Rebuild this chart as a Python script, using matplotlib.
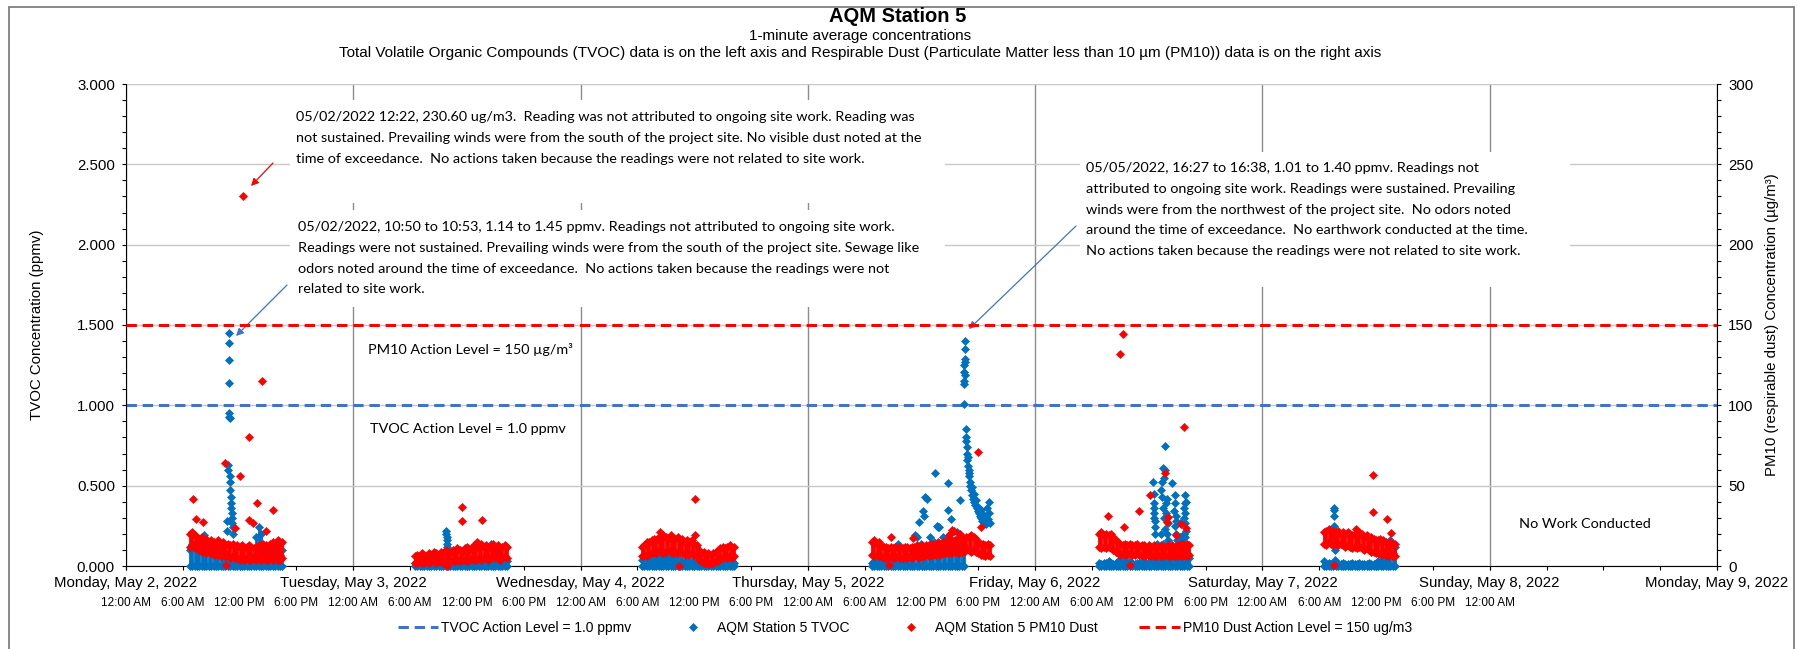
import matplotlib
matplotlib.use("Agg")
import matplotlib.pyplot as plt
import matplotlib.dates as mdates
from matplotlib.patches import Rectangle
from matplotlib.ticker import MultipleLocator, FormatStrFormatter, FuncFormatter
import numpy as np
import pandas as pd

plt.rcParams['font.family'] = ['Liberation Sans', 'DejaVu Sans']

# ---- data: lowest / highest 1-minute reading in each 15-minute interval ----
start_mon, start_tue, start_wed = '2022-05-02 06:45', '2022-05-03 06:30', '2022-05-04 06:30'
start_thu, start_fri, start_sat = '2022-05-05 06:45', '2022-05-06 06:45', '2022-05-07 06:30'

pm10_mon_lo = [12, 13, 11, 12, 10, 9, 10, 8, 9, 8, 7, 8, 7, 6, 7, 6, 6, 5, 6, 5,
               5, 4, 5, 4, 5, 4, 4, 5, 4, 5, 4, 5, 4, 4, 5, 4, 5, 4, 4, 5]
pm10_mon_hi = [20, 21, 19, 18, 17, 18, 16, 17, 15, 16, 15, 14, 16, 14, 15, 13, 14, 13, 14, 12,
               13, 12, 13, 11, 12, 13, 12, 11, 12, 13, 12, 14, 13, 12, 14, 15, 13, 16, 14, 15]
pm10_tue_lo = [2, 2, 3, 2, 2, 3, 2, 3, 3, 2, 3, 3, 2, 3, 3, 4, 3, 3, 4, 3,
               4, 4, 3, 4, 5, 4, 4, 5, 4, 5, 5, 4, 5, 6, 5, 5, 4, 5, 6, 5]
pm10_tue_hi = [6, 7, 6, 8, 7, 6, 8, 7, 9, 8, 7, 9, 8, 10, 9, 8, 10, 9, 11, 10,
               9, 11, 12, 10, 11, 13, 12, 11, 14, 12, 13, 11, 12, 14, 12, 13, 11, 12, 13, 12]
pm10_wed_lo = [6, 7, 6, 8, 8, 9, 8, 10, 9, 8, 9, 10, 9, 8, 9, 8, 9, 8, 7, 8,
               7, 8, 7, 6, 4, 3, 2, 2, 1, 2, 2, 3, 3, 5, 5, 6, 5, 6, 5, 6]
pm10_wed_hi = [12, 13, 14, 15, 16, 17, 16, 18, 17, 19, 18, 17, 18, 16, 17, 18, 16, 17, 15, 16,
               15, 16, 14, 13, 10, 8, 9, 7, 8, 7, 8, 9, 10, 11, 12, 11, 12, 13, 11, 12]
pm10_thu_lo = [7, 6, 7, 6, 6, 5, 5, 5, 6, 5, 5, 6, 5, 5, 6, 5, 6, 5, 6, 6,
               5, 6, 6, 7, 6, 7, 7, 7, 8, 7, 8, 8, 8, 9, 8, 9, 9, 8, 9, 9,
               10, 10, 9, 10, 9, 8, 7, 7, 6, 7, 6]
pm10_thu_hi = [15, 16, 14, 15, 13, 12, 12, 11, 12, 11, 12, 11, 12, 11, 12, 12, 11, 12, 12, 13,
               12, 13, 12, 13, 13, 14, 13, 14, 15, 14, 15, 15, 16, 15, 16, 16, 17, 16, 17, 17,
               18, 18, 19, 18, 17, 15, 14, 14, 13, 14, 13]
pm10_fri_lo = [12, 11, 12, 11, 12, 11, 10, 9, 8, 7, 8, 7, 7, 8, 7, 7, 8, 7, 7, 6,
               7, 6, 7, 6, 6, 7, 6, 6, 7, 6, 6, 7, 6, 6, 7, 6, 7, 6, 7]
pm10_fri_hi = [20, 21, 19, 20, 19, 20, 18, 16, 15, 14, 13, 14, 13, 14, 13, 13, 14, 12, 13, 13,
               12, 13, 12, 13, 12, 12, 13, 12, 12, 13, 12, 13, 12, 13, 13, 14, 13, 14, 13]
pm10_sat_lo = [14, 13, 15, 14, 13, 14, 13, 14, 13, 12, 13, 12, 11, 12, 11, 12, 11, 10, 11, 10,
               9, 9, 8, 8, 7, 8, 7, 6, 7, 6, 6]
pm10_sat_hi = [21, 22, 23, 21, 22, 21, 22, 20, 21, 20, 21, 20, 19, 20, 19, 21, 19, 18, 19, 17,
               18, 17, 16, 16, 15, 16, 15, 14, 15, 14, 14]

# TVOC drops to 0.000 in every interval; these are the interval highs
tvoc_mon_hi = [0.1, 0.14, 0.12, 0.15, 0.13, 0.16, 0.19, 0.14, 0.12, 0.15, 0.1, 0.13, 0.11, 0.09,
               0.12, 0.08, 0.05, 0.04, 0.06, 0.03, 0.04, 0.02, 0.03, 0.04, 0.03, 0.05, 0.04, 0.06,
               0.18, 0.24, 0.2, 0.12, 0.1, 0.12, 0.08, 0.11, 0.09, 0.12, 0.07, 0.1]
tvoc_tue_hi = [0.02, 0.03, 0.02, 0.01, 0.02, 0.03, 0.02, 0.02, 0.03, 0.02, 0.03, 0.02, 0.03, 0.04,
               0.03, 0.02, 0.03, 0.02, 0.03, 0.04, 0.03, 0.02, 0.04, 0.03, 0.03, 0.04, 0.03, 0.05,
               0.04, 0.03, 0.05, 0.04, 0.06, 0.04, 0.03, 0.05, 0.04, 0.03, 0.04, 0.03]
tvoc_wed_hi = [0.04, 0.05, 0.06, 0.04, 0.05, 0.06, 0.05, 0.04, 0.06, 0.05, 0.04, 0.06, 0.05, 0.04,
               0.05, 0.03, 0.04, 0.03, 0.02, 0.03, 0.02, 0.03, 0.02, 0.03, 0.02, 0.02, 0.01, 0.02,
               0.02, 0.01, 0.02, 0.02, 0.01, 0.02, 0.02, 0.03, 0.02, 0.02, 0.03, 0.02]
tvoc_thu_hi = [0.02, 0.03, 0.02, 0.03, 0.04, 0.03, 0.02, 0.03, 0.04, 0.03, 0.04, 0.05, 0.04, 0.05,
               0.04, 0.06, 0.05, 0.07, 0.09, 0.1, 0.08, 0.11, 0.12, 0.1, 0.09, 0.12, 0.14, 0.11,
               0.1, 0.13, 0.12, 0.14, 0.13, 0.11, 0.15, 0.13, 0.14, 0.12, 0.15, 0.13]
tvoc_fri_hi = [0.02, 0.01, 0.02, 0.02, 0.03, 0.02, 0.01, 0.02, 0.02, 0.03, 0.04, 0.02, 0.02, 0.03,
               0.02, 0.01, 0.02, 0.02, 0.03, 0.03, 0.02, 0.02, 0.05, 0.03, 0.04, 0.03, 0.06, 0.04,
               0.05, 0.03, 0.04, 0.05, 0.07, 0.04, 0.05, 0.06, 0.04, 0.08, 0.05]
tvoc_sat_hi = [0.03, 0.01, 0.02, 0.01, 0.01, 0.02, 0.01, 0.01, 0.02, 0.01, 0.01, 0.01, 0.02, 0.01,
               0.01, 0.02, 0.01, 0.01, 0.01, 0.02, 0.01, 0.01, 0.02, 0.03, 0.02, 0.04, 0.1, 0.06,
               0.16, 0.08, 0.12]

# individual 1-minute readings that stand out from the bands
pm10_spot_t = ['2022-05-02 12:22', '2022-05-02 07:02', '2022-05-02 07:24', '2022-05-02 14:22',
               '2022-05-02 13:00', '2022-05-02 10:27', '2022-05-02 12:03', '2022-05-02 13:52',
               '2022-05-02 15:29', '2022-05-02 12:57', '2022-05-02 13:26', '2022-05-02 08:10',
               '2022-05-02 14:47', '2022-05-02 11:28', '2022-05-02 10:33',
               '2022-05-03 11:28', '2022-05-03 11:29', '2022-05-03 13:35', '2022-05-03 09:52',
               '2022-05-03 13:06', '2022-05-03 14:42',
               '2022-05-04 12:02', '2022-05-04 12:03', '2022-05-04 08:23', '2022-05-04 06:58',
               '2022-05-04 09:36', '2022-05-04 10:24',
               '2022-05-05 18:01', '2022-05-05 18:18', '2022-05-05 08:48', '2022-05-05 11:03',
               '2022-05-05 08:36', '2022-05-05 14:54', '2022-05-05 15:24', '2022-05-05 15:14',
               '2022-05-05 16:03',
               '2022-05-06 09:00', '2022-05-06 09:18', '2022-05-06 15:45', '2022-05-06 07:42',
               '2022-05-06 13:42', '2022-05-06 12:06', '2022-05-06 11:00', '2022-05-06 09:20',
               '2022-05-06 14:00', '2022-05-06 10:00', '2022-05-06 15:27', '2022-05-06 15:54',
               '2022-05-06 14:51', '2022-05-06 13:54',
               '2022-05-07 11:42', '2022-05-07 11:43', '2022-05-07 13:12', '2022-05-07 13:36',
               '2022-05-07 09:54', '2022-05-07 07:36', '2022-05-07 10:34', '2022-05-07 12:24']
pm10_spot_v = [230.6, 41.5, 29.0, 115.0, 80.5, 64.3, 56.0, 39.4, 34.8, 28.6, 26.6, 27.6, 22.0, 23.5, 0.6,
               36.9, 28.0, 28.6, 0.3, 14.7, 12.6,
               41.7, 19.3, 21.4, 15.2, 19.3, 0.2,
               70.9, 24.5, 18.3, 17.2, 0.6, 19.3, 21.8, 22.4, 20.0,
               131.9, 144.2, 86.3, 31.3, 58.0, 44.2, 34.2, 24.0, 30.7, 0.6, 26.3, 23.6, 19.4, 27.5,
               56.4, 33.8, 29.5, 20.3, 23.2, 0.6, 20.0, 17.0]

tvoc_spot_t = ['2022-05-02 10:50', '2022-05-02 10:51', '2022-05-02 10:52', '2022-05-02 10:53',
               '2022-05-02 10:54', '2022-05-02 10:55', '2022-05-02 10:56', '2022-05-02 10:45',
               '2022-05-02 10:47', '2022-05-02 10:57', '2022-05-02 10:59', '2022-05-02 11:02',
               '2022-05-02 11:04', '2022-05-02 11:06', '2022-05-02 11:08', '2022-05-02 11:10',
               '2022-05-02 11:12', '2022-05-02 11:14', '2022-05-02 10:40', '2022-05-02 11:18',
               '2022-05-02 10:38', '2022-05-02 11:20',
               '2022-05-03 09:48', '2022-05-03 09:50', '2022-05-03 09:51', '2022-05-03 09:52',
               '2022-05-03 09:54', '2022-05-03 09:55', '2022-05-03 09:57', '2022-05-03 14:30',
               '2022-05-03 14:45', '2022-05-03 15:05',
               '2022-05-05 13:25', '2022-05-05 12:21', '2022-05-05 12:36', '2022-05-05 12:12',
               '2022-05-05 12:15', '2022-05-05 14:48', '2022-05-05 14:45', '2022-05-05 16:03',
               '2022-05-05 11:42', '2022-05-05 13:39', '2022-05-05 13:48', '2022-05-05 12:54',
               '2022-05-05 11:30', '2022-05-05 15:00', '2022-05-05 15:42', '2022-05-05 13:18',
               '2022-05-05 14:42', '2022-05-05 11:54', '2022-05-05 15:18', '2022-05-05 16:05',
               '2022-05-05 11:00', '2022-05-05 09:30', '2022-05-05 11:18', '2022-05-05 13:45',
               '2022-05-05 14:17', '2022-05-05 15:10',
               '2022-05-05 16:27', '2022-05-05 16:29', '2022-05-05 16:30', '2022-05-05 16:31',
               '2022-05-05 16:32', '2022-05-05 16:33', '2022-05-05 16:34', '2022-05-05 16:35',
               '2022-05-05 16:36', '2022-05-05 16:38',
               '2022-05-05 16:40', '2022-05-05 16:42', '2022-05-05 16:44', '2022-05-05 16:46',
               '2022-05-05 16:48', '2022-05-05 16:50', '2022-05-05 16:52', '2022-05-05 16:55',
               '2022-05-05 16:58', '2022-05-05 17:00', '2022-05-05 17:03', '2022-05-05 17:06',
               '2022-05-05 17:10', '2022-05-05 17:14', '2022-05-05 17:18', '2022-05-05 17:22',
               '2022-05-05 17:26', '2022-05-05 17:30', '2022-05-05 17:35', '2022-05-05 17:40',
               '2022-05-05 17:45', '2022-05-05 17:50', '2022-05-05 17:55', '2022-05-05 18:00',
               '2022-05-05 18:05', '2022-05-05 18:10', '2022-05-05 18:15', '2022-05-05 18:20',
               '2022-05-05 18:25', '2022-05-05 18:30', '2022-05-05 18:35', '2022-05-05 18:40',
               '2022-05-05 18:45', '2022-05-05 18:50', '2022-05-05 18:55', '2022-05-05 19:00',
               '2022-05-05 19:05', '2022-05-05 19:10', '2022-05-05 19:12',
               '2022-05-06 13:42', '2022-05-06 13:30', '2022-05-06 13:45', '2022-05-06 12:27',
               '2022-05-06 14:24', '2022-05-06 12:33', '2022-05-06 12:36', '2022-05-06 12:38',
               '2022-05-06 13:20', '2022-05-06 13:24', '2022-05-06 13:48', '2022-05-06 13:52',
               '2022-05-06 14:02', '2022-05-06 14:45', '2022-05-06 14:50', '2022-05-06 14:55',
               '2022-05-06 15:48', '2022-05-06 15:50', '2022-05-06 15:52', '2022-05-06 15:47',
               '2022-05-06 15:51', '2022-05-06 15:49', '2022-05-06 15:16', '2022-05-06 15:20',
               '2022-05-06 15:22', '2022-05-06 13:15', '2022-05-06 13:33', '2022-05-06 14:00',
               '2022-05-06 12:50', '2022-05-06 12:00', '2022-05-06 14:30', '2022-05-06 08:54',
               '2022-05-06 12:30', '2022-05-06 12:31', '2022-05-06 12:34', '2022-05-06 12:40',
               '2022-05-06 12:42', '2022-05-06 13:25', '2022-05-06 13:28', '2022-05-06 13:35',
               '2022-05-06 13:38', '2022-05-06 13:43', '2022-05-06 13:55', '2022-05-06 13:58',
               '2022-05-06 14:40', '2022-05-06 14:43', '2022-05-06 14:48', '2022-05-06 14:52',
               '2022-05-06 14:58', '2022-05-06 15:44', '2022-05-06 15:46', '2022-05-06 15:53',
               '2022-05-06 15:55', '2022-05-06 15:35', '2022-05-06 15:40',
               '2022-05-07 07:33', '2022-05-07 07:34', '2022-05-07 07:35', '2022-05-07 07:36',
               '2022-05-07 07:37', '2022-05-07 07:38', '2022-05-07 07:40']
tvoc_spot_v = [1.14, 1.45, 1.39, 1.28, 0.95, 0.93, 0.92, 0.63, 0.60, 0.56, 0.52, 0.47, 0.43,
               0.39, 0.36, 0.33, 0.30, 0.27, 0.28, 0.24, 0.22, 0.20,
               0.22, 0.20, 0.18, 0.16, 0.14, 0.12, 0.10, 0.135, 0.11, 0.08,
               0.58, 0.43, 0.415, 0.34, 0.31, 0.515, 0.35, 0.41, 0.275, 0.25, 0.24, 0.18, 0.18,
               0.20, 0.21, 0.15, 0.16, 0.14, 0.14, 0.10, 0.10, 0.14, 0.19, 0.245, 0.18, 0.29,
               1.01, 1.13, 1.15, 1.21, 1.25, 1.27, 1.29, 1.35, 1.40, 1.19,
               0.85, 0.80, 0.78, 0.74, 0.70, 0.66, 0.68, 0.62, 0.60, 0.56, 0.58, 0.52, 0.50,
               0.47, 0.49, 0.44, 0.42, 0.45, 0.40, 0.38, 0.41, 0.36, 0.34, 0.37, 0.33, 0.31,
               0.35, 0.30, 0.28, 0.32, 0.29, 0.27, 0.31, 0.26, 0.36, 0.29, 0.40, 0.33, 0.27,
               0.75, 0.61, 0.60, 0.525, 0.515, 0.39, 0.33, 0.245, 0.47, 0.43, 0.39, 0.33, 0.27,
               0.39, 0.31, 0.20, 0.44, 0.39, 0.33, 0.27, 0.18, 0.12, 0.27, 0.18, 0.10, 0.20,
               0.14, 0.16, 0.14, 0.10, 0.10, 0.04,
               0.45, 0.36, 0.30, 0.20, 0.28, 0.52, 0.36, 0.55, 0.30, 0.23, 0.42, 0.20,
               0.34, 0.25, 0.44, 0.28, 0.16, 0.36, 0.30, 0.22, 0.40, 0.15, 0.20,
               0.36, 0.35, 0.31, 0.25, 0.18, 0.10, 0.04]

tvoc_action = 1.0
pm10_action = 150

W, H = 1799, 649
blue, red = '#0070C0', '#FF0000'

pm10_days = [(start_mon, pm10_mon_lo, pm10_mon_hi), (start_tue, pm10_tue_lo, pm10_tue_hi),
             (start_wed, pm10_wed_lo, pm10_wed_hi), (start_thu, pm10_thu_lo, pm10_thu_hi),
             (start_fri, pm10_fri_lo, pm10_fri_hi), (start_sat, pm10_sat_lo, pm10_sat_hi)]
tvoc_days = [(start_mon, tvoc_mon_hi), (start_tue, tvoc_tue_hi), (start_wed, tvoc_wed_hi),
             (start_thu, tvoc_thu_hi), (start_fri, tvoc_fri_hi), (start_sat, tvoc_sat_hi)]

fig = plt.figure(figsize=(W / 100, H / 100), dpi=100)
ax = fig.add_axes([126 / W, 1 - 566 / H, (1717 - 126) / W, (566 - 84) / H])
ax2 = ax.twinx()

mk = dict(ls='none', marker='D', ms=4.2, mew=0.5, clip_on=False, zorder=3)

ax.axhline(tvoc_action, color='#4472C4', lw=2.2, dashes=(3.4, 1.9),
           label='TVOC Action Level = 1.0 ppmv', zorder=2)
for s, hi in tvoc_days:
    t = pd.date_range(s, periods=len(hi), freq='15min').to_numpy()
    ax.vlines(t, 0, hi, colors=blue, lw=2.0, zorder=3)
    ax.plot(t, hi, color=blue, mec=blue, **mk)
    ax.plot(t, np.zeros(len(hi)), color=blue, mec=blue, **mk)
ax.plot(pd.to_datetime(tvoc_spot_t).to_numpy(), tvoc_spot_v, color=blue, mec=blue,
        label='AQM Station 5 TVOC', **mk)

for s, lo, hi in pm10_days:
    t = pd.date_range(s, periods=len(hi), freq='15min').to_numpy()
    ax2.vlines(t, lo, hi, colors=red, lw=2.0, zorder=3)
    ax2.plot(t, hi, color=red, mec=red, **mk)
    ax2.plot(t, lo, color=red, mec=red, **mk)
ax2.plot(pd.to_datetime(pm10_spot_t).to_numpy(), pm10_spot_v, color=red, mec=red,
         label='AQM Station 5 PM10 Dust', **mk)
ax2.axhline(pm10_action, color=red, lw=2.2, dashes=(3.4, 1.9),
            label='PM10 Dust Action Level = 150 ug/m3', zorder=4)

# axes
ax.set_xlim(np.datetime64('2022-05-02'), np.datetime64('2022-05-09'))
ax.set_ylim(0, 3)
ax2.set_ylim(0, 300)
ax.yaxis.set_major_locator(MultipleLocator(0.5))
ax.yaxis.set_minor_locator(MultipleLocator(0.1))
ax.yaxis.set_major_formatter(FormatStrFormatter('%.3f'))
ax2.yaxis.set_major_locator(MultipleLocator(50))
ax2.yaxis.set_minor_locator(MultipleLocator(10))

ax.xaxis.set_major_locator(mdates.DayLocator())
ax.xaxis.set_major_formatter(mdates.DateFormatter('%A, %B %-d, %Y'))
ax.xaxis.set_minor_locator(mdates.HourLocator(byhour=[0, 6, 12, 18]))
ax.xaxis.remove_overlapping_locs = False
last_label = mdates.date2num(np.datetime64('2022-05-08'))


def time_label(x, pos):
    if x > last_label + 1e-6:
        return ''
    return mdates.num2date(x).strftime('%-I:%M %p')


ax.xaxis.set_minor_formatter(FuncFormatter(time_label))

ax.tick_params(axis='x', which='major', direction='out', length=3, width=0.8, pad=4, labelsize=10.8)
ax.tick_params(axis='x', which='minor', direction='out', length=3, width=0.8, pad=19.5, labelsize=8.5)
ax.tick_params(axis='y', which='both', direction='out', length=3, width=0.8, pad=5, labelsize=10.8)
ax2.tick_params(axis='y', which='both', direction='out', length=3, width=0.8, pad=5, labelsize=10.8)

ax.grid(axis='y', which='major', color='#c8c8c8', lw=1)
ax.grid(axis='x', which='major', color='#8c8c8c', lw=1)
ax.set_axisbelow(True)
for a in (ax, ax2):
    a.spines['top'].set_visible(False)
ax.spines['right'].set_visible(False)
ax2.spines['left'].set_visible(False)
ax2.spines['bottom'].set_visible(False)


def fx(x):
    return x / W


def fy(y):
    return 1 - y / H


# titles and axis labels
fig.text(fx(898), fy(16.5), 'AQM Station 5', ha='center', va='center', fontsize=14.5, fontweight='bold')
fig.text(fx(860), fy(36), '1-minute average concentrations', ha='center', va='center', fontsize=11)
fig.text(fx(860), fy(53.5), 'Total Volatile Organic Compounds (TVOC) data is on the left axis and Respirable Dust '
         '(Particulate Matter less than 10 µm (PM10)) data is on the right axis',
         ha='center', va='center', fontsize=11)
fig.text(fx(37), fy(325), 'TVOC Concentration (ppmv)', rotation=90, ha='center', va='center', fontsize=10.8)
fig.text(fx(1772), fy(325), 'PM10 (respirable dust) Concentration (µg/m³)', rotation=90,
         ha='center', va='center', fontsize=10.8)

# chart border
fig.patches.append(Rectangle((fx(9), -0.05), fx(1794) - fx(9), fy(7) + 0.05, transform=fig.transFigure,
                             fill=False, ec='#7f7f7f', lw=1.3, zorder=0))

# white text boxes over the gridlines
for x0, y0, x1, y1 in [(290, 100, 945, 203), (290, 210, 945, 307), (1080, 152, 1570, 287)]:
    fig.patches.append(Rectangle((fx(x0), fy(y1)), fx(x1) - fx(x0), fy(y0) - fy(y1),
                                 transform=fig.transFigure, fc='white', ec='none', zorder=1))

note_font = dict(family=['Lato', 'DejaVu Sans'], fontsize=10.4, va='center', ha='left')
ann1 = ["05/02/2022 12:22, 230.60 ug/m3.  Reading was not attributed to ongoing site work. Reading was",
        "not sustained. Prevailing winds were from the south of the project site. No visible dust noted at the",
        "time of exceedance.  No actions taken because the readings were not related to site work."]
ann2 = ["05/02/2022, 10:50 to 10:53, 1.14 to 1.45 ppmv. Readings not attributed to ongoing site work.",
        "Readings were not sustained. Prevailing winds were from the south of the project site. Sewage like",
        "odors noted around the time of exceedance.  No actions taken because the readings were not",
        "related to site work."]
ann3 = ["05/05/2022, 16:27 to 16:38, 1.01 to 1.40 ppmv. Readings not",
        "attributed to ongoing site work. Readings were sustained. Prevailing",
        "winds were from the northwest of the project site.  No odors noted",
        "around the time of exceedance.  No earthwork conducted at the time.",
        "No actions taken because the readings were not related to site work."]
for lines, x0, y0 in [(ann1, 296, 117), (ann2, 298, 227), (ann3, 1086, 168)]:
    for i, line in enumerate(lines):
        fig.text(fx(x0), fy(y0 + i * 20.8), line, **note_font)

fig.text(fx(368), fy(349), 'PM10 Action Level = 150 µg/m³', **note_font)
fig.text(fx(370), fy(429), 'TVOC Action Level = 1.0 ppmv', **note_font)
fig.text(fx(1519), fy(524), 'No Work Conducted', **note_font)

# arrows
for tail, tip, c in [((273, 163), (251, 186), red), ((287, 285), (236, 336), '#4472C4'),
                     ((1076, 226), (969, 329), '#4472C4')]:
    ax2.annotate('', xy=(tip[0], H - tip[1]), xycoords='figure pixels',
                 xytext=(tail[0], H - tail[1]), textcoords='figure pixels',
                 arrowprops=dict(arrowstyle='-|>', color=c, lw=0.9, mutation_scale=11,
                                 shrinkA=0, shrinkB=0), annotation_clip=False)

h1, l1 = ax.get_legend_handles_labels()
h2, l2 = ax2.get_legend_handles_labels()
fig.legend(h1 + h2, l1 + l2, loc='center', bbox_to_anchor=(fx(905), fy(628)), ncol=4, frameon=False,
           fontsize=10, handlelength=2.9, handletextpad=0.25, columnspacing=3.0, numpoints=1)

fig.savefig('out.png', dpi=100)
